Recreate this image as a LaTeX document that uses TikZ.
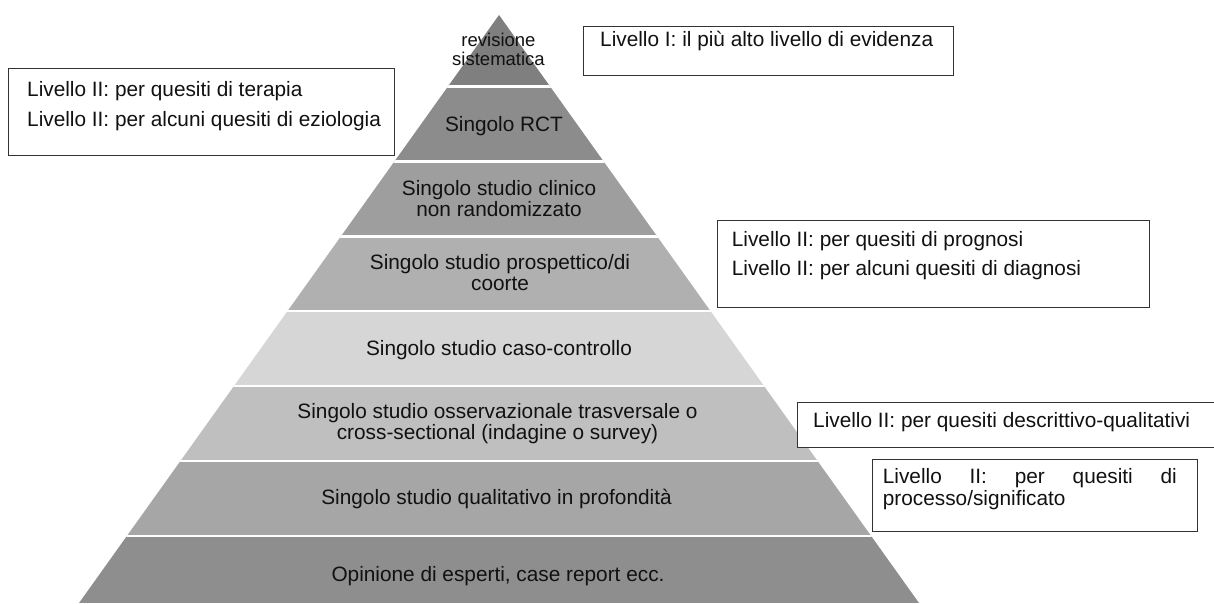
\documentclass[tikz,border=0pt]{standalone}
\usepackage{fontspec}
\setmainfont{Liberation Sans}
\definecolor{bandA}{HTML}{7F7F7F}
\definecolor{bandB}{HTML}{8C8C8C}
\definecolor{bandC}{HTML}{9E9E9E}
\definecolor{bandD}{HTML}{B0B0B0}
\definecolor{bandE}{HTML}{D6D6D6}
\definecolor{bandF}{HTML}{BFBFBF}
\definecolor{bandG}{HTML}{A6A6A6}
\definecolor{bandH}{HTML}{8E8E8E}
\definecolor{txt}{HTML}{111111}
\definecolor{boxc}{HTML}{333333}
\begin{document}
\begin{tikzpicture}[x=1pt,y=-1pt,
  lbl/.style={font=\fontsize{20.8}{21.5}\selectfont, inner sep=0pt, align=center, anchor=base, text=txt},
  toplbl/.style={font=\fontsize{18.5}{18.5}\selectfont, inner sep=0pt, align=center, anchor=base, text=txt},
  boxtxt/.style={font=\fontsize{20.8}{22}\selectfont, inner sep=0pt, align=left, anchor=base west, text=txt},
  notebox/.style={draw=boxc, line width=1.2pt, fill=white, inner sep=0pt, anchor=north west},
]
\useasboundingbox (0,0) rectangle (1214,603);
\fill[white] (0,0) rectangle (1214,603);

% pyramid bands
\begin{scope}
  \clip (499,15) -- (919,603) -- (79,603) -- cycle;
  \fill[bandA] (0,0)     rectangle (1214,86.5);
  \fill[bandB] (0,86.5)  rectangle (1214,161.4);
  \fill[bandC] (0,161.4) rectangle (1214,236.3);
  \fill[bandD] (0,236.3) rectangle (1214,311.2);
  \fill[bandE] (0,311.2) rectangle (1214,386.1);
  \fill[bandF] (0,386.1) rectangle (1214,461);
  \fill[bandG] (0,461)   rectangle (1214,535.9);
  \fill[bandH] (0,535.9) rectangle (1214,603);
  \foreach \yy in {86.5,161.4,236.3,311.2,386.1,461,535.9}
    \draw[white, line width=2.5pt] (0,\yy) -- (1214,\yy);
\end{scope}

% band labels (anchor base = baseline of the last line)
\node[toplbl] (l1) at (498.5,65) {revisione\\sistematica};
\node[lbl] (l2) at (504,131.5) {Singolo RCT};
\node[lbl] (l3) at (499,216.5) {Singolo studio clinico\\non randomizzato};
\node[lbl] (l4) at (500,290.5) {Singolo studio prospettico/di\\coorte};
\node[lbl] (l5) at (499,355) {Singolo studio caso-controllo};
\node[lbl] (l6) at (497.5,439.5) {Singolo studio osservazionale trasversale o\\cross-sectional (indagine o survey)};
\node[lbl] (l7) at (496.5,504.5) {Singolo studio qualitativo in profondità};
\node[lbl] (l8) at (498,581.7) {Opinione di esperti, case report ecc.};

% note boxes
\node[notebox, minimum width=370pt, minimum height=49pt] (b1) at (583,26) {};
\node[notebox, minimum width=386pt, minimum height=87pt] (b2) at (8,68) {};
\node[notebox, minimum width=432pt, minimum height=87pt] (b3) at (717,220) {};
\node[notebox, minimum width=423pt, minimum height=45pt] (b4) at (797,402) {};
\node[notebox, minimum width=325pt, minimum height=72pt] (b5) at (872,459) {};

\node[boxtxt] (n1) at (600,46.7) {Livello I: il più alto livello di evidenza};
\node[boxtxt, font=\fontsize{20.8}{30}\selectfont] (n2) at (27,126.7) {Livello II: per quesiti di terapia\\Livello II: per alcuni quesiti di eziologia};
\node[boxtxt, font=\fontsize{20.8}{28.3}\selectfont] (n3) at (731.7,275) {Livello II: per quesiti di prognosi\\Livello II: per alcuni quesiti di diagnosi};
\node[boxtxt] (n4) at (813,427.5) {Livello II: per quesiti descrittivo-qualitativi};
\node[boxtxt] (n5) at (882.7,505) {\makebox[294pt][s]{Livello II: per quesiti di}\\processo/significato};
\end{tikzpicture}
\end{document}
